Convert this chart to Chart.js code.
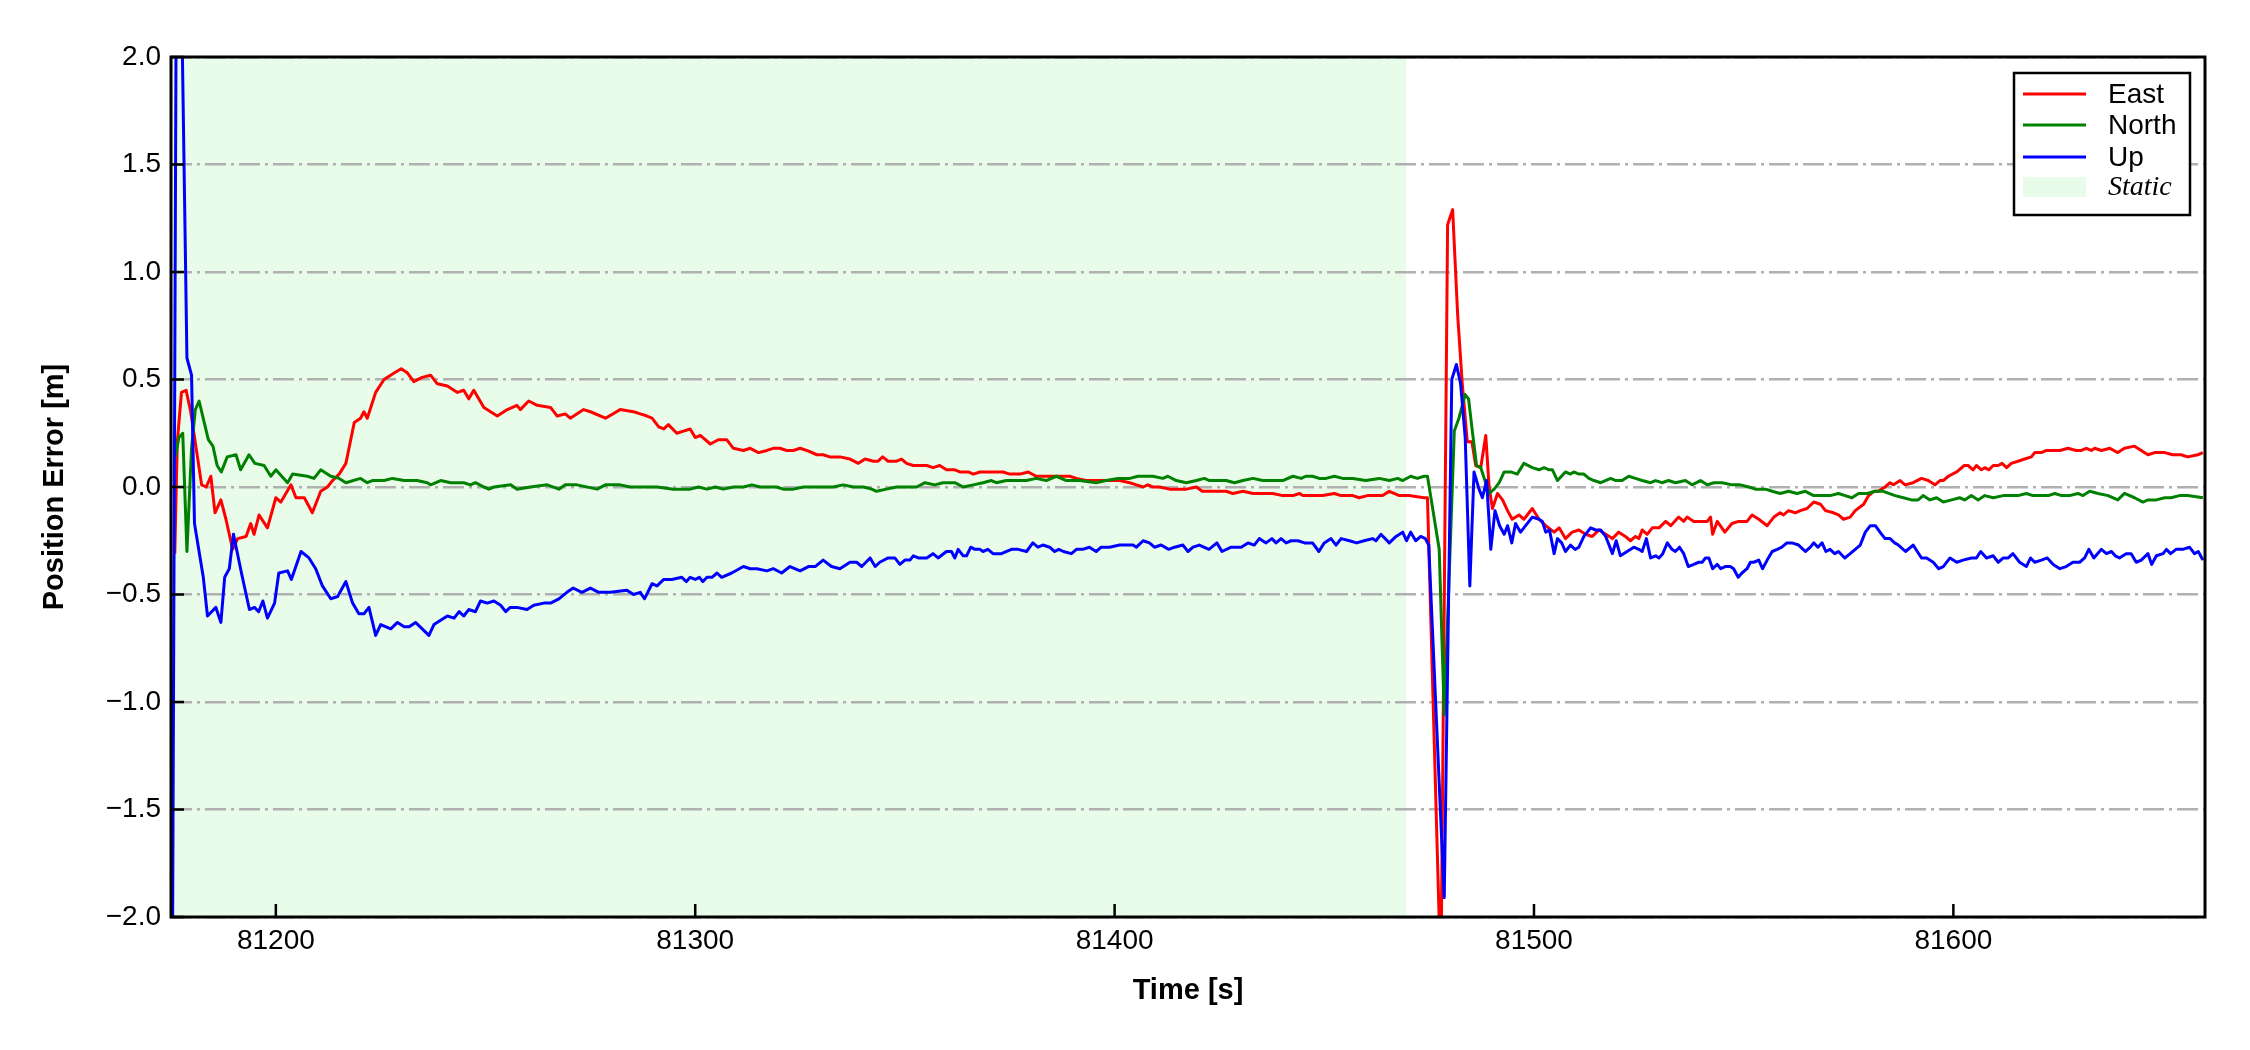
<!DOCTYPE html>
<html>
<head>
<meta charset="utf-8">
<script src="https://cdn.jsdelivr.net/npm/chart.js@4.4.1/dist/chart.umd.min.js"></script>
<style>
  html, body { margin: 0; padding: 0; background: #fff; }
  canvas { display: block; }
</style>
</head>
<body>
<canvas id="errorChart" width="2250" height="1050"></canvas>
<script>
// axis ticks
const xTicks = [81200, 81300, 81400, 81500, 81600];
const yTicks = [-2.0, -1.5, -1.0, -0.5, 0.0, 0.5, 1.0, 1.5, 2.0];

// static period (shaded)
const staticSpan = [81175, 81469.5];

// East error
const eastT = [81175.9, 81176.5, 81177.5, 81178.6, 81179.7, 81181.0, 81182.3, 81183.4, 81184.5, 81185.5,
  81186.9, 81188.1, 81189.7, 81190.9, 81192.9, 81194.0, 81194.8, 81196.0, 81198.0, 81200.0,
  81201.2, 81203.6, 81204.8, 81206.8, 81208.7, 81210.7, 81212.3, 81213.5, 81215.1, 81216.7,
  81218.7, 81220.2, 81221.0, 81221.8, 81223.8, 81225.8, 81228.2, 81229.9, 81231.4, 81232.9,
  81234.9, 81236.9, 81238.5, 81240.9, 81243.3, 81244.8, 81246.0, 81247.2, 81249.6, 81252.8,
  81255.2, 81257.5, 81258.3, 81260.3, 81262.3, 81265.5, 81267.1, 81269.0, 81270.2, 81273.4,
  81275.0, 81278.6, 81282.1, 81285.3, 81286.9, 81288.5, 81289.7, 81291.3, 81292.5, 81293.6,
  81295.6, 81297.2, 81298.8, 81300.0, 81301.2, 81303.6, 81305.5, 81307.5, 81309.1, 81311.5,
  81313.1, 81315.1, 81317.1, 81318.6, 81320.2, 81321.8, 81323.4, 81325.0, 81326.6, 81329.0,
  81330.5, 81332.1, 81334.5, 81336.9, 81338.9, 81340.5, 81342.5, 81343.6, 81344.7, 81346.0,
  81348.0, 81349.2, 81350.4, 81352.0, 81353.6, 81355.2, 81356.7, 81358.3, 81359.9, 81361.9,
  81363.1, 81365.1, 81366.3, 81367.9, 81370.2, 81372.2, 81373.4, 81375.0, 81377.4, 81379.4,
  81381.3, 81382.9, 81384.9, 81386.9, 81389.3, 81390.9, 81393.2, 81395.6, 81398.0, 81399.6,
  81401.2, 81403.6, 81405.2, 81406.8, 81407.9, 81409.1, 81410.7, 81413.1, 81415.5, 81417.1,
  81419.5, 81420.9, 81422.6, 81425.0, 81426.6, 81428.2, 81430.6, 81433.0, 81435.3, 81437.7,
  81440.1, 81442.5, 81444.1, 81444.9, 81447.2, 81449.6, 81452.4, 81454.0, 81456.8, 81458.3,
  81460.3, 81463.9, 81465.5, 81467.9, 81470.2, 81473.8, 81474.6, 81477.8, 81479.4, 81480.6,
  81481.8, 81482.9, 81484.1, 81485.2, 81486.1, 81487.3, 81488.5, 81489.3, 81490.1, 81491.3,
  81492.5, 81493.7, 81494.8, 81496.4, 81497.6, 81499.6, 81501.2, 81502.8, 81504.8, 81506.0,
  81507.5, 81509.1, 81510.7, 81512.3, 81513.9, 81515.5, 81517.1, 81518.7, 81520.2, 81521.8,
  81523.0, 81524.2, 81525.0, 81525.8, 81527.0, 81528.2, 81529.8, 81531.4, 81532.6, 81534.5,
  81535.7, 81536.5, 81538.1, 81539.7, 81541.3, 81542.1, 81542.6, 81543.7, 81545.5, 81547.2,
  81548.8, 81550.8, 81552.0, 81553.6, 81555.6, 81557.2, 81558.7, 81559.5, 81560.7, 81562.3,
  81563.5, 81565.1, 81566.7, 81568.3, 81569.5, 81571.4, 81572.6, 81573.8, 81575.4, 81576.6,
  81578.6, 81579.8, 81581.0, 81582.1, 81583.7, 81584.9, 81585.7, 81587.3, 81588.5, 81590.4,
  81592.4, 81594.0, 81595.6, 81596.8, 81597.6, 81598.8, 81600.8, 81602.6, 81603.5, 81604.7,
  81605.5, 81606.7, 81607.5, 81608.5, 81609.5, 81610.7, 81611.6, 81612.7, 81613.8, 81615.4,
  81617.0, 81618.6, 81619.4, 81621.0, 81622.2, 81623.4, 81625.4, 81627.3, 81629.3, 81630.5,
  81631.7, 81632.9, 81633.7, 81635.3, 81637.3, 81639.2, 81640.8, 81643.2, 81644.8, 81646.4,
  81648.0, 81650.4, 81652.3, 81654.3, 81655.9, 81658.3, 81659.5];
const eastV = [-0.31, 0.21, 0.44, 0.45, 0.35, 0.18, 0.01, 0.00, 0.05, -0.12,
  -0.06, -0.15, -0.29, -0.24, -0.23, -0.17, -0.22, -0.13, -0.19, -0.05,
  -0.07, 0.01, -0.05, -0.05, -0.12, -0.02, 0.00, 0.03, 0.06, 0.11,
  0.30, 0.32, 0.35, 0.32, 0.44, 0.50, 0.53, 0.55, 0.53, 0.49,
  0.51, 0.52, 0.48, 0.47, 0.44, 0.45, 0.41, 0.45, 0.37, 0.33,
  0.36, 0.38, 0.36, 0.40, 0.38, 0.37, 0.33, 0.34, 0.32, 0.36,
  0.35, 0.32, 0.36, 0.35, 0.34, 0.33, 0.32, 0.28, 0.27, 0.29,
  0.25, 0.26, 0.27, 0.23, 0.24, 0.20, 0.22, 0.22, 0.18, 0.17,
  0.18, 0.16, 0.17, 0.18, 0.18, 0.17, 0.17, 0.18, 0.17, 0.15,
  0.15, 0.14, 0.14, 0.13, 0.11, 0.13, 0.12, 0.12, 0.14, 0.12,
  0.12, 0.13, 0.11, 0.10, 0.10, 0.10, 0.09, 0.10, 0.08, 0.08,
  0.07, 0.07, 0.06, 0.07, 0.07, 0.07, 0.07, 0.06, 0.06, 0.07,
  0.05, 0.05, 0.05, 0.05, 0.05, 0.04, 0.03, 0.03, 0.03, 0.03,
  0.03, 0.02, 0.01, 0.00, 0.01, 0.00, 0.00, -0.01, -0.01, -0.01,
  0.00, -0.02, -0.02, -0.02, -0.02, -0.03, -0.02, -0.03, -0.03, -0.03,
  -0.04, -0.04, -0.03, -0.04, -0.04, -0.04, -0.03, -0.04, -0.04, -0.05,
  -0.04, -0.04, -0.02, -0.04, -0.04, -0.05, -0.05, -2.30, 1.22, 1.29,
  0.80, 0.48, 0.21, 0.21, 0.10, 0.09, 0.24, 0.00, -0.10, -0.03,
  -0.06, -0.11, -0.15, -0.13, -0.15, -0.10, -0.15, -0.18, -0.21, -0.19,
  -0.24, -0.21, -0.20, -0.22, -0.23, -0.20, -0.22, -0.24, -0.21, -0.23,
  -0.25, -0.23, -0.24, -0.20, -0.22, -0.19, -0.19, -0.16, -0.18, -0.14,
  -0.16, -0.14, -0.16, -0.16, -0.16, -0.14, -0.22, -0.16, -0.21, -0.17,
  -0.16, -0.16, -0.13, -0.15, -0.18, -0.14, -0.12, -0.13, -0.11, -0.12,
  -0.11, -0.10, -0.07, -0.08, -0.11, -0.12, -0.13, -0.15, -0.14, -0.11,
  -0.08, -0.04, -0.02, -0.02, 0.00, 0.02, 0.01, 0.03, 0.01, 0.02,
  0.04, 0.03, 0.01, 0.03, 0.03, 0.05, 0.07, 0.10, 0.10, 0.08,
  0.10, 0.08, 0.09, 0.08, 0.10, 0.10, 0.11, 0.09, 0.11, 0.12,
  0.13, 0.14, 0.16, 0.16, 0.17, 0.17, 0.17, 0.18, 0.17, 0.17,
  0.18, 0.17, 0.18, 0.17, 0.18, 0.16, 0.18, 0.19, 0.17, 0.15,
  0.16, 0.16, 0.15, 0.15, 0.14, 0.15, 0.16];

// North error
const northT = [81175.9, 81176.9, 81177.8, 81178.8, 81179.9, 81180.8, 81181.7, 81182.8, 81183.9, 81185.0,
  81186.0, 81187.0, 81188.4, 81190.5, 81191.6, 81193.6, 81195.0, 81197.2, 81198.8, 81200.0,
  81202.8, 81204.0, 81207.5, 81209.1, 81210.7, 81213.1, 81215.1, 81216.7, 81220.2, 81221.8,
  81223.0, 81225.8, 81227.8, 81230.6, 81233.7, 81236.1, 81236.9, 81239.3, 81241.7, 81244.8,
  81246.4, 81247.6, 81249.6, 81250.8, 81252.0, 81256.0, 81257.5, 81260.7, 81264.7, 81267.5,
  81269.0, 81271.8, 81276.6, 81278.6, 81282.1, 81284.5, 81286.9, 81290.9, 81294.8, 81298.8,
  81300.8, 81302.8, 81304.8, 81306.7, 81309.1, 81311.5, 81313.5, 81315.5, 81317.5, 81319.4,
  81321.0, 81323.4, 81325.8, 81328.2, 81330.5, 81332.9, 81335.3, 81337.7, 81340.1, 81342.1,
  81343.2, 81345.6, 81348.0, 81350.4, 81352.8, 81354.8, 81357.1, 81359.1, 81361.9, 81363.9,
  81366.3, 81368.6, 81370.6, 81371.8, 81374.2, 81376.6, 81379.0, 81381.3, 81383.7, 81386.1,
  81388.5, 81391.7, 81395.6, 81398.0, 81400.8, 81403.6, 81405.6, 81407.5, 81409.1, 81411.5,
  81412.7, 81414.7, 81417.1, 81419.5, 81421.4, 81422.6, 81425.0, 81426.6, 81428.6, 81430.6,
  81433.0, 81435.3, 81437.7, 81440.1, 81442.5, 81444.5, 81445.6, 81447.2, 81448.8, 81450.4,
  81452.4, 81454.4, 81456.8, 81459.9, 81463.1, 81465.5, 81467.5, 81468.7, 81470.6, 81472.2,
  81473.8, 81474.6, 81477.4, 81478.6, 81481.0, 81482.1, 81483.6, 81484.4, 81485.3, 81486.3,
  81487.3, 81488.3, 81489.3, 81490.5, 81491.7, 81492.9, 81494.5, 81496.0, 81497.6, 81499.6,
  81501.2, 81502.4, 81503.6, 81504.4, 81505.6, 81507.5, 81508.7, 81509.5, 81510.7, 81511.9,
  81513.1, 81514.3, 81515.9, 81518.3, 81519.5, 81521.0, 81522.6, 81524.2, 81525.8, 81527.8,
  81529.0, 81530.5, 81532.1, 81533.7, 81536.1, 81537.7, 81539.7, 81541.3, 81542.9, 81544.9,
  81547.2, 81549.2, 81551.2, 81552.8, 81555.2, 81556.8, 81558.7, 81560.7, 81562.7, 81564.7,
  81566.7, 81568.7, 81570.6, 81572.6, 81574.2, 81575.8, 81577.4, 81579.4, 81581.4, 81583.3,
  81586.1, 81588.1, 81590.0, 81591.6, 81592.8, 81594.4, 81596.0, 81597.6, 81599.6, 81601.5,
  81602.7, 81604.3, 81605.9, 81607.5, 81609.5, 81611.9, 81613.8, 81615.4, 81617.4, 81619.0,
  81621.0, 81622.6, 81624.2, 81625.8, 81627.7, 81629.7, 81630.9, 81632.5, 81634.5, 81636.9,
  81639.2, 81640.8, 81643.2, 81645.2, 81646.4, 81648.4, 81650.4, 81651.9, 81653.9, 81655.9,
  81659.5];
const northV = [0.13, 0.23, 0.25, -0.30, 0.18, 0.36, 0.40, 0.31, 0.22, 0.19,
  0.10, 0.07, 0.14, 0.15, 0.08, 0.15, 0.11, 0.10, 0.05, 0.08,
  0.02, 0.06, 0.05, 0.04, 0.08, 0.05, 0.04, 0.02, 0.04, 0.02,
  0.03, 0.03, 0.04, 0.03, 0.03, 0.02, 0.01, 0.03, 0.02, 0.02,
  0.01, 0.02, 0.00, -0.01, 0.00, 0.01, -0.01, 0.00, 0.01, -0.01,
  0.01, 0.01, -0.01, 0.01, 0.01, 0.00, 0.00, 0.00, -0.01, -0.01,
  0.00, -0.01, 0.00, -0.01, 0.00, 0.00, 0.01, 0.00, 0.00, 0.00,
  -0.01, -0.01, 0.00, 0.00, 0.00, 0.00, 0.01, 0.00, 0.00, -0.01,
  -0.02, -0.01, 0.00, 0.00, 0.00, 0.02, 0.01, 0.02, 0.02, 0.00,
  0.01, 0.02, 0.03, 0.02, 0.03, 0.03, 0.03, 0.04, 0.03, 0.05,
  0.03, 0.03, 0.02, 0.03, 0.04, 0.04, 0.05, 0.05, 0.05, 0.04,
  0.05, 0.03, 0.02, 0.03, 0.04, 0.03, 0.03, 0.03, 0.02, 0.03,
  0.04, 0.03, 0.03, 0.03, 0.05, 0.04, 0.05, 0.05, 0.04, 0.04,
  0.05, 0.04, 0.04, 0.03, 0.04, 0.03, 0.04, 0.03, 0.05, 0.04,
  0.05, 0.05, -0.29, -1.06, 0.26, 0.32, 0.43, 0.41, 0.26, 0.10,
  0.09, 0.03, -0.03, -0.01, 0.02, 0.07, 0.07, 0.06, 0.11, 0.09,
  0.08, 0.09, 0.08, 0.08, 0.03, 0.07, 0.06, 0.07, 0.06, 0.06,
  0.04, 0.03, 0.02, 0.04, 0.03, 0.03, 0.05, 0.04, 0.03, 0.02,
  0.03, 0.02, 0.03, 0.02, 0.03, 0.01, 0.03, 0.01, 0.02, 0.02,
  0.01, 0.01, 0.00, -0.01, -0.01, -0.02, -0.03, -0.02, -0.03, -0.02,
  -0.04, -0.04, -0.04, -0.03, -0.04, -0.05, -0.03, -0.03, -0.02, -0.02,
  -0.04, -0.05, -0.06, -0.06, -0.04, -0.06, -0.05, -0.07, -0.06, -0.05,
  -0.06, -0.04, -0.06, -0.04, -0.05, -0.04, -0.04, -0.04, -0.03, -0.04,
  -0.04, -0.04, -0.03, -0.04, -0.04, -0.03, -0.04, -0.02, -0.03, -0.04,
  -0.06, -0.03, -0.05, -0.07, -0.06, -0.06, -0.05, -0.05, -0.04, -0.04,
  -0.05];

// Up error
const upT = [81175.2, 81176.5, 81178.8, 81179.9, 81180.6, 81182.7, 81183.7, 81185.7, 81186.9, 81187.8,
  81188.9, 81189.9, 81191.8, 81193.7, 81194.9, 81195.9, 81196.9, 81198.0, 81199.7, 81200.7,
  81202.8, 81203.7, 81206.0, 81207.9, 81209.5, 81211.1, 81213.1, 81214.7, 81216.7, 81218.3,
  81219.8, 81221.0, 81222.2, 81223.8, 81225.0, 81227.4, 81229.0, 81230.6, 81231.8, 81233.3,
  81234.9, 81236.5, 81237.7, 81239.3, 81240.9, 81242.5, 81243.7, 81244.8, 81246.0, 81247.6,
  81248.8, 81250.4, 81252.0, 81253.6, 81254.8, 81255.9, 81257.5, 81259.9, 81261.5, 81263.9,
  81265.5, 81267.5, 81269.4, 81270.9, 81273.0, 81275.0, 81277.0, 81279.8, 81283.7, 81285.3,
  81286.9, 81287.9, 81289.7, 81290.9, 81292.5, 81294.4, 81296.8, 81297.9, 81298.8, 81300.0,
  81301.0, 81301.8, 81302.8, 81304.0, 81305.2, 81306.3, 81308.7, 81311.5, 81313.1, 81314.7,
  81317.1, 81318.6, 81320.6, 81322.6, 81325.0, 81327.0, 81328.6, 81330.5, 81332.5, 81334.5,
  81336.9, 81338.5, 81339.7, 81341.7, 81342.9, 81344.0, 81346.0, 81347.6, 81348.8, 81350.0,
  81351.2, 81352.0, 81353.2, 81355.2, 81356.7, 81357.9, 81359.9, 81361.1, 81361.9, 81362.7,
  81363.9, 81364.7, 81365.7, 81366.7, 81367.9, 81368.6, 81369.8, 81371.0, 81373.0, 81375.4,
  81377.0, 81379.0, 81380.5, 81381.7, 81382.9, 81384.5, 81385.7, 81386.7, 81387.8, 81389.7,
  81390.9, 81392.4, 81394.0, 81395.6, 81396.8, 81398.8, 81401.2, 81404.4, 81405.2, 81406.8,
  81408.3, 81409.5, 81411.1, 81412.9, 81414.3, 81416.3, 81417.5, 81418.7, 81420.2, 81422.5,
  81424.4, 81425.6, 81427.8, 81430.2, 81431.8, 81433.3, 81434.5, 81436.1, 81437.5, 81438.5,
  81439.7, 81440.9, 81442.1, 81443.7, 81445.3, 81447.2, 81448.7, 81450.0, 81451.6, 81452.8,
  81454.0, 81456.0, 81457.7, 81459.5, 81461.5, 81462.3, 81463.5, 81465.5, 81467.1, 81468.7,
  81469.6, 81470.6, 81471.8, 81473.0, 81474.1, 81474.9, 81478.6, 81480.4, 81481.5, 81482.5,
  81483.6, 81484.7, 81485.7, 81486.9, 81487.7, 81488.7, 81489.7, 81490.7, 81491.8, 81492.9,
  81493.7, 81494.7, 81495.6, 81496.8, 81498.0, 81499.6, 81501.2, 81502.0, 81502.8, 81503.7,
  81504.8, 81505.6, 81506.6, 81507.5, 81508.7, 81509.8, 81510.7, 81511.9, 81513.5, 81514.7,
  81515.9, 81517.1, 81518.7, 81519.6, 81520.6, 81522.2, 81523.8, 81525.0, 81525.8, 81526.8,
  81527.8, 81529.0, 81529.8, 81530.7, 81531.8, 81532.9, 81533.7, 81534.7, 81535.7, 81536.8,
  81538.1, 81539.3, 81540.1, 81540.9, 81541.7, 81542.6, 81543.7, 81544.5, 81545.6, 81546.8,
  81547.6, 81548.7, 81549.6, 81550.8, 81551.6, 81552.4, 81553.6, 81554.5, 81555.6, 81556.8,
  81558.0, 81559.1, 81560.3, 81561.5, 81563.1, 81564.7, 81565.9, 81566.7, 81567.7, 81568.7,
  81569.6, 81570.6, 81571.7, 81572.6, 81574.1, 81575.4, 81576.6, 81577.8, 81579.0, 81580.2,
  81581.4, 81582.5, 81583.7, 81584.9, 81586.0, 81586.9, 81588.6, 81590.4, 81592.4, 81593.6,
  81595.2, 81596.5, 81597.6, 81599.2, 81600.8, 81602.3, 81604.3, 81605.5, 81606.5, 81607.9,
  81609.5, 81610.7, 81611.9, 81613.1, 81614.2, 81615.8, 81617.4, 81618.4, 81619.4, 81621.0,
  81622.4, 81623.8, 81625.4, 81626.9, 81628.5, 81630.1, 81631.3, 81632.3, 81633.5, 81635.3,
  81636.5, 81637.7, 81638.6, 81639.6, 81641.2, 81642.4, 81643.6, 81644.8, 81646.4, 81647.3,
  81648.4, 81650.0, 81650.8, 81651.8, 81653.1, 81654.7, 81656.3, 81657.5, 81658.4, 81659.5];
const upV = [-3.00, 3.60, 0.60, 0.52, -0.17, -0.42, -0.60, -0.56, -0.63, -0.42,
  -0.38, -0.22, -0.40, -0.57, -0.56, -0.58, -0.53, -0.61, -0.54, -0.40,
  -0.39, -0.43, -0.30, -0.33, -0.38, -0.46, -0.52, -0.51, -0.44, -0.54,
  -0.59, -0.59, -0.56, -0.69, -0.64, -0.66, -0.63, -0.65, -0.65, -0.63,
  -0.66, -0.69, -0.64, -0.62, -0.60, -0.61, -0.58, -0.60, -0.57, -0.58,
  -0.53, -0.54, -0.53, -0.55, -0.58, -0.56, -0.56, -0.57, -0.55, -0.54,
  -0.54, -0.52, -0.49, -0.47, -0.49, -0.47, -0.49, -0.49, -0.48, -0.50,
  -0.49, -0.52, -0.45, -0.46, -0.43, -0.43, -0.42, -0.44, -0.42, -0.43,
  -0.42, -0.44, -0.42, -0.42, -0.40, -0.42, -0.40, -0.37, -0.38, -0.38,
  -0.39, -0.38, -0.40, -0.37, -0.39, -0.37, -0.37, -0.34, -0.37, -0.38,
  -0.35, -0.35, -0.37, -0.33, -0.37, -0.35, -0.33, -0.33, -0.36, -0.34,
  -0.34, -0.32, -0.33, -0.33, -0.31, -0.33, -0.30, -0.30, -0.33, -0.29,
  -0.32, -0.32, -0.28, -0.29, -0.29, -0.30, -0.29, -0.31, -0.31, -0.29,
  -0.29, -0.30, -0.26, -0.28, -0.27, -0.28, -0.30, -0.29, -0.30, -0.31,
  -0.29, -0.29, -0.28, -0.30, -0.28, -0.28, -0.27, -0.27, -0.28, -0.25,
  -0.26, -0.28, -0.27, -0.29, -0.28, -0.27, -0.30, -0.28, -0.27, -0.29,
  -0.26, -0.30, -0.28, -0.28, -0.26, -0.27, -0.24, -0.26, -0.24, -0.26,
  -0.24, -0.26, -0.25, -0.25, -0.26, -0.26, -0.30, -0.26, -0.24, -0.27,
  -0.24, -0.25, -0.26, -0.25, -0.24, -0.25, -0.22, -0.26, -0.23, -0.21,
  -0.25, -0.21, -0.25, -0.23, -0.24, -0.27, -1.91, 0.50, 0.57, 0.48,
  0.23, -0.46, 0.07, -0.01, -0.05, 0.03, -0.29, -0.11, -0.18, -0.22,
  -0.18, -0.26, -0.17, -0.21, -0.18, -0.14, -0.15, -0.16, -0.21, -0.20,
  -0.31, -0.24, -0.26, -0.30, -0.27, -0.29, -0.28, -0.23, -0.19, -0.20,
  -0.20, -0.23, -0.31, -0.25, -0.32, -0.30, -0.28, -0.29, -0.30, -0.24,
  -0.33, -0.32, -0.33, -0.31, -0.26, -0.29, -0.30, -0.28, -0.31, -0.37,
  -0.36, -0.35, -0.35, -0.33, -0.33, -0.38, -0.36, -0.38, -0.37, -0.37,
  -0.38, -0.42, -0.40, -0.38, -0.35, -0.35, -0.34, -0.38, -0.34, -0.30,
  -0.29, -0.28, -0.26, -0.26, -0.27, -0.30, -0.28, -0.26, -0.28, -0.26,
  -0.30, -0.29, -0.31, -0.30, -0.33, -0.31, -0.29, -0.27, -0.21, -0.18,
  -0.18, -0.21, -0.24, -0.24, -0.26, -0.27, -0.30, -0.27, -0.33, -0.33,
  -0.35, -0.38, -0.37, -0.33, -0.35, -0.34, -0.33, -0.33, -0.30, -0.33,
  -0.32, -0.35, -0.33, -0.33, -0.31, -0.35, -0.37, -0.33, -0.35, -0.34,
  -0.33, -0.36, -0.38, -0.37, -0.35, -0.35, -0.33, -0.29, -0.33, -0.29,
  -0.31, -0.30, -0.32, -0.33, -0.31, -0.31, -0.35, -0.34, -0.31, -0.36,
  -0.32, -0.31, -0.29, -0.31, -0.29, -0.29, -0.28, -0.31, -0.30, -0.34];

const seriesLabels = ['East', 'North', 'Up'];
const seriesColors = ['#ff0000', '#008000', '#0000ff'];
const staticLabel = 'Static';
const staticColor = 'rgb(233, 252, 233)';

const FONT = '"Liberation Sans", Arial, sans-serif';

function toPoints(ts, vs) {
  return ts.map((t, i) => ({ x: t, y: vs[i] }));
}

// shaded static period, drawn under the grid
const staticShade = {
  id: 'staticShade',
  beforeDraw(chart) {
    const { ctx, chartArea, scales } = chart;
    ctx.save();
    ctx.fillStyle = '#ffffff';
    ctx.fillRect(0, 0, chart.width, chart.height);
    const x0 = Math.max(scales.x.getPixelForValue(staticSpan[0]), chartArea.left);
    const x1 = scales.x.getPixelForValue(staticSpan[1]);
    ctx.fillStyle = staticColor;
    ctx.fillRect(x0, chartArea.top, x1 - x0, chartArea.bottom - chartArea.top);
    ctx.restore();
  }
};

// frame, inward ticks and the boxed legend
const frameAndLegend = {
  id: 'frameAndLegend',
  afterDraw(chart) {
    const { ctx, chartArea: a, scales } = chart;
    ctx.save();
    ctx.strokeStyle = '#000';
    ctx.lineWidth = 2.5;
    ctx.beginPath();
    xTicks.forEach(v => {
      const px = scales.x.getPixelForValue(v);
      ctx.moveTo(px, a.bottom);
      ctx.lineTo(px, a.bottom - 13);
    });
    yTicks.forEach(v => {
      const py = scales.y.getPixelForValue(v);
      ctx.moveTo(a.left, py);
      ctx.lineTo(a.left + 13, py);
    });
    ctx.stroke();
    ctx.lineWidth = 3;
    ctx.strokeRect(a.left, a.top, a.right - a.left, a.bottom - a.top);

    // legend box
    const bx = 2014, by = 73, bw = 176, bh = 142;
    ctx.fillStyle = '#ffffff';
    ctx.fillRect(bx, by, bw, bh);
    ctx.lineWidth = 2.5;
    ctx.strokeRect(bx, by, bw, bh);
    const rowY = [94, 125, 157, 187];
    ctx.textBaseline = 'middle';
    ctx.textAlign = 'left';
    seriesLabels.forEach((lab, i) => {
      ctx.strokeStyle = seriesColors[i];
      ctx.lineWidth = 3;
      ctx.beginPath();
      ctx.moveTo(2023, rowY[i]);
      ctx.lineTo(2086, rowY[i]);
      ctx.stroke();
      ctx.fillStyle = '#000';
      ctx.font = '28px ' + FONT;
      ctx.fillText(lab, 2108, rowY[i] + 1);
    });
    ctx.fillStyle = staticColor;
    ctx.fillRect(2023, rowY[3] - 10, 63, 20);
    ctx.fillStyle = '#000';
    ctx.font = 'italic 28px "Liberation Serif", "Times New Roman", serif';
    ctx.fillText(staticLabel, 2108, rowY[3] + 1);
    ctx.restore();
  }
};

const ctx = document.getElementById('errorChart').getContext('2d');
const errorChart = new Chart(ctx, {
  type: 'line',
  data: {
    datasets: [
      { label: seriesLabels[0], data: toPoints(eastT, eastV), borderColor: seriesColors[0], order: 3 },
      { label: seriesLabels[1], data: toPoints(northT, northV), borderColor: seriesColors[1], order: 2 },
      { label: seriesLabels[2], data: toPoints(upT, upV), borderColor: seriesColors[2], order: 1 }
    ]
  },
  options: {
    responsive: false,
    animation: false,
    devicePixelRatio: 1,
    layout: { padding: { left: 0, top: 57, right: 45, bottom: 0 } },
    elements: {
      line: { borderWidth: 3, tension: 0, fill: false, borderJoinStyle: 'round' },
      point: { radius: 0, hoverRadius: 0 }
    },
    plugins: {
      legend: { display: false },
      tooltip: { enabled: false }
    },
    scales: {
      x: {
        type: 'linear',
        min: 81175,
        max: 81660,
        afterBuildTicks: s => { s.ticks = xTicks.map(v => ({ value: v })); },
        afterFit: s => { s.height = 133; },
        grid: { display: false, drawTicks: false },
        border: { display: false },
        ticks: {
          padding: 7,
          color: '#000',
          font: { family: FONT, size: 28 },
          maxRotation: 0,
          callback: v => String(v)
        },
        title: {
          display: true,
          text: 'Time [s]',
          color: '#000',
          font: { family: FONT, size: 29, weight: 'bold' },
          padding: { top: 4, bottom: 42 }
        }
      },
      y: {
        type: 'linear',
        min: -2,
        max: 2,
        afterBuildTicks: s => { s.ticks = yTicks.map(v => ({ value: v })); },
        afterFit: s => { s.width = 171; },
        grid: {
          drawTicks: false,
          color: '#b0b0b0',
          lineWidth: 2.5
        },
        border: { display: false, dash: [21, 5, 3, 5] },
        ticks: {
          padding: 10,
          color: '#000',
          font: { family: FONT, size: 28 },
          callback: v => v.toFixed(1).replace('-', '\u2212')
        },
        title: {
          display: true,
          text: 'Position Error [m]',
          color: '#000',
          font: { family: FONT, size: 29, weight: 'bold' },
          padding: { top: 38, bottom: 4 }
        }
      }
    }
  },
  plugins: [staticShade, frameAndLegend]
});
</script>
</body>
</html>
